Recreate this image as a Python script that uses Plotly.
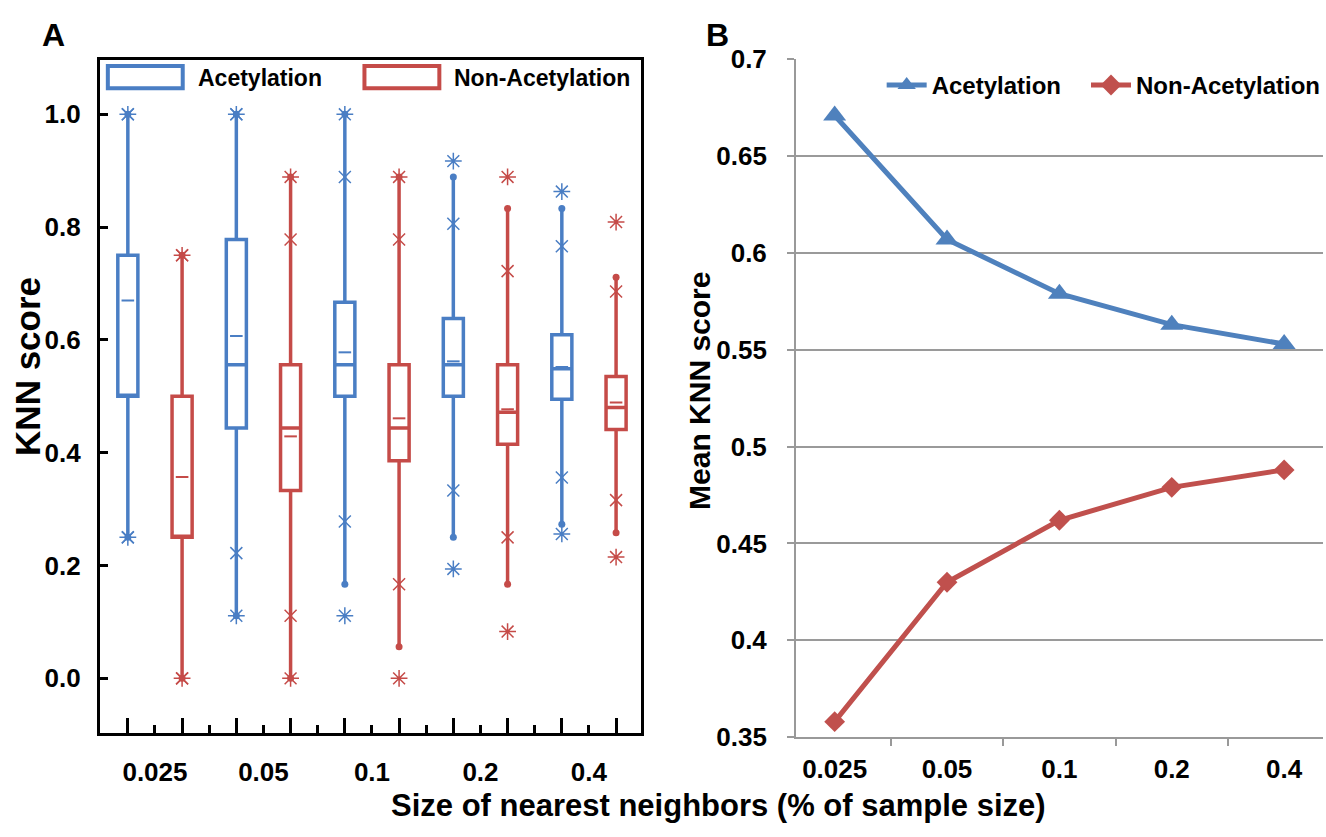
import plotly.graph_objects as go

# ---------------- data ----------------
categories = ["0.025", "0.05", "0.1", "0.2", "0.4"]

# Panel A: box statistics (KNN score)
acet_q1 = [0.500, 0.444, 0.500, 0.500, 0.495]
acet_median = [0.500, 0.556, 0.556, 0.556, 0.549]
acet_q3 = [0.750, 0.778, 0.667, 0.638, 0.609]
acet_lower = [0.250, 0.111, 0.167, 0.250, 0.273]
acet_upper = [1.000, 1.000, 1.000, 0.889, 0.833]
acet_mean = [0.670, 0.607, 0.578, 0.562, 0.552]
acet_min = [0.250, 0.111, 0.111, 0.194, 0.256]
acet_max = [1.000, 1.000, 1.000, 0.917, 0.863]
acet_p01 = [0.250, 0.222, 0.278, 0.333, 0.356]
acet_p99 = [1.000, 1.000, 0.889, 0.806, 0.766]

non_q1 = [0.250, 0.333, 0.386, 0.415, 0.441]
non_median = [0.250, 0.444, 0.444, 0.472, 0.480]
non_q3 = [0.500, 0.556, 0.556, 0.556, 0.535]
non_lower = [0.000, 0.000, 0.056, 0.167, 0.258]
non_upper = [0.750, 0.889, 0.889, 0.833, 0.711]
non_mean = [0.357, 0.429, 0.461, 0.477, 0.489]
non_min = [0.000, 0.000, 0.000, 0.083, 0.215]
non_max = [0.750, 0.889, 0.889, 0.889, 0.809]
non_p01 = [0.000, 0.111, 0.167, 0.250, 0.316]
non_p99 = [0.750, 0.778, 0.778, 0.722, 0.686]

# Panel B: mean KNN score
mean_knn_acet = [0.671, 0.607, 0.579, 0.563, 0.553]
mean_knn_non = [0.358, 0.430, 0.462, 0.479, 0.488]

y_a_ticks = [0.0, 0.2, 0.4, 0.6, 0.8, 1.0]
y_b_ticks = [0.35, 0.4, 0.45, 0.5, 0.55, 0.6, 0.65, 0.7]
y_b_ticktext = ["0.35", "0.4", "0.45", "0.5", "0.55", "0.6", "0.65", "0.7"]

# ---------------- styling ----------------
BLUE_A = "#4A7EC4"
RED_A = "#C54B48"
BLUE_B = "#4F81BD"
RED_B = "#C0504D"
FONT = "Liberation Sans"
W, H = 1326, 837

fig = go.Figure()

group_idx = list(range(len(categories)))
acet_pos = [i - 0.25 for i in group_idx]
non_pos = [i + 0.25 for i in group_idx]

series = [
    (acet_pos, acet_q1, acet_median, acet_q3, acet_lower, acet_upper, acet_mean,
     acet_min, acet_max, acet_p01, acet_p99, BLUE_A),
    (non_pos, non_q1, non_median, non_q3, non_lower, non_upper, non_mean,
     non_min, non_max, non_p01, non_p99, RED_A),
]

for pos, q1, med, q3, lo, hi, mean, mn, mx, p01, p99, col in series:
    fig.add_trace(go.Box(
        x=pos, q1=q1, median=med, q3=q3, lowerfence=lo, upperfence=hi,
        width=0.185, whiskerwidth=0, boxpoints=False,
        line=dict(color=col, width=3.5), fillcolor="rgba(255,255,255,0)",
        showlegend=False, hoverinfo="skip", xaxis="x", yaxis="y"))
    # whisker end dots
    fig.add_trace(go.Scatter(
        x=pos + pos, y=lo + hi, mode="markers",
        marker=dict(symbol="circle", size=7, color=col),
        showlegend=False, hoverinfo="skip", xaxis="x", yaxis="y"))
    # 1% / 99% marks
    fig.add_trace(go.Scatter(
        x=pos + pos, y=p01 + p99, mode="markers",
        marker=dict(symbol="x-thin-open", size=12, color=col,
                    line=dict(color=col, width=1.5)),
        showlegend=False, hoverinfo="skip", xaxis="x", yaxis="y"))
    # min / max marks
    fig.add_trace(go.Scatter(
        x=pos + pos, y=mn + mx, mode="markers",
        marker=dict(symbol="asterisk-open", size=14, color=col,
                    line=dict(color=col, width=1.5)),
        showlegend=False, hoverinfo="skip", xaxis="x", yaxis="y"))
    # mean dash
    fig.add_trace(go.Scatter(
        x=pos, y=mean, mode="markers",
        marker=dict(symbol="line-ew-open", size=9, color=col,
                    line=dict(color=col, width=2)),
        showlegend=False, hoverinfo="skip", xaxis="x", yaxis="y"))

# Panel B lines
fig.add_trace(go.Scatter(
    x=categories, y=mean_knn_acet, mode="lines+markers", name="Acetylation",
    line=dict(color=BLUE_B, width=5),
    marker=dict(symbol="triangle-up", size=20, color=BLUE_B),
    xaxis="x2", yaxis="y2", legend="legend2"))
fig.add_trace(go.Scatter(
    x=categories, y=mean_knn_non, mode="lines+markers", name="Non-Acetylation",
    line=dict(color=RED_B, width=5),
    marker=dict(symbol="diamond", size=16, color=RED_B),
    xaxis="x2", yaxis="y2", legend="legend3"))

tickfont = dict(family=FONT, size=26, color="black", weight="bold")

major_vals = [i * 0.5 for i in range(0, 2 * len(categories) - 1)]
major_text = [categories[int(v)] if float(v).is_integer() else "" for v in major_vals]

legend_common = dict(
    orientation="h", y=1 - 73 / H, xanchor="left", yanchor="middle",
    font=dict(family=FONT, size=24, color="black", weight="bold"),
    bgcolor="rgba(0,0,0,0)", itemwidth=40,
)

fig.update_layout(
    width=W, height=H,
    margin=dict(l=0, r=0, t=0, b=0),
    paper_bgcolor="white", plot_bgcolor="white",
    font=dict(family=FONT, color="black"),
    xaxis=dict(
        domain=[100 / W, 642 / W], range=[-0.508, 4.48],
        showgrid=False, zeroline=False,
        showline=True, linecolor="black", linewidth=3, mirror=True,
        tickmode="array", tickvals=major_vals, ticktext=major_text,
        ticks="inside", ticklen=8, tickwidth=2.5, tickcolor="black",
        minor=dict(tickmode="array", tickvals=acet_pos + non_pos,
                   ticks="inside", ticklen=15, tickwidth=2.5, tickcolor="black"),
        tickfont=tickfont, ticklabelstandoff=14,
    ),
    yaxis=dict(
        domain=[1 - 745 / H, 1 - 47 / H], range=[-0.0974, 1.0957],
        showgrid=False, zeroline=False,
        showline=True, linecolor="black", linewidth=3, mirror=True,
        tickmode="array", tickvals=y_a_ticks, tickformat=".1f",
        ticks="inside", ticklen=8, tickwidth=3, tickcolor="black",
        tickfont=tickfont, ticklabelstandoff=11,
    ),
    xaxis2=dict(
        domain=[797 / W, 1325 / W], type="category",
        categoryorder="array", categoryarray=categories,
        showgrid=False, zeroline=False,
        showline=True, linecolor="#999999", linewidth=1.5,
        ticks="outside", tickson="boundaries", ticklen=7, tickwidth=1.5,
        tickcolor="#999999", tickfont=tickfont, ticklabelstandoff=8,
        anchor="y2",
    ),
    yaxis2=dict(
        domain=[1 - 749 / H, 1 - 46 / H], range=[0.35, 0.7],
        tickmode="array", tickvals=y_b_ticks, ticktext=y_b_ticktext,
        showgrid=True, gridcolor="#9a9a9a", gridwidth=1.5, zeroline=False,
        showline=True, linecolor="#999999", linewidth=1.5,
        ticks="outside", ticklen=7, tickwidth=1.5, tickcolor="#999999",
        tickfont=tickfont, ticklabelstandoff=15, anchor="x2",
    ),
    legend2=dict(legend_common, x=883 / W),
    legend3=dict(legend_common, x=1088 / W),
    showlegend=True,
)

# Panel A legend keys (box-style)
legend_items = [("Acetylation", BLUE_A, 108, 183, 196), ("Non-Acetylation", RED_A, 365, 440, 453)]
for label, col, x0, x1, tx in legend_items:
    fig.add_shape(type="rect", xref="paper", yref="paper",
                  x0=x0 / W, x1=x1 / W, y0=1 - 76 / H, y1=1 - 53 / H,
                  line=dict(color=col, width=4), fillcolor="rgba(0,0,0,0)")
    fig.add_annotation(text=label, xref="paper", yref="paper", x=tx / W, y=1 - 65 / H,
                       xanchor="left", yanchor="middle", showarrow=False,
                       font=dict(family=FONT, size=23, color="black", weight="bold"))

ann_font = dict(family=FONT, color="black", weight="bold")
fig.add_annotation(text="A", xref="paper", yref="paper", x=54 / W, y=1 - 21 / H,
                   showarrow=False, xanchor="center", yanchor="middle",
                   font=dict(ann_font, size=32))
fig.add_annotation(text="B", xref="paper", yref="paper", x=719 / W, y=1 - 21 / H,
                   showarrow=False, xanchor="center", yanchor="middle",
                   font=dict(ann_font, size=32))
fig.add_annotation(text="Size of nearest neighbors (% of sample size)", xref="paper", yref="paper",
                   x=720 / W, y=1 - 820 / H, showarrow=False, xanchor="center", yanchor="middle",
                   font=dict(ann_font, size=31))
fig.add_annotation(text="KNN score", xref="paper", yref="paper", x=28 / W, y=1 - 364 / H,
                   showarrow=False, xanchor="center", yanchor="middle", textangle=-90,
                   font=dict(ann_font, size=35))
fig.add_annotation(text="Mean KNN score", xref="paper", yref="paper", x=700 / W, y=1 - 390 / H,
                   showarrow=False, xanchor="center", yanchor="middle", textangle=-90,
                   font=dict(ann_font, size=30))

fig.write_html("out.html")
